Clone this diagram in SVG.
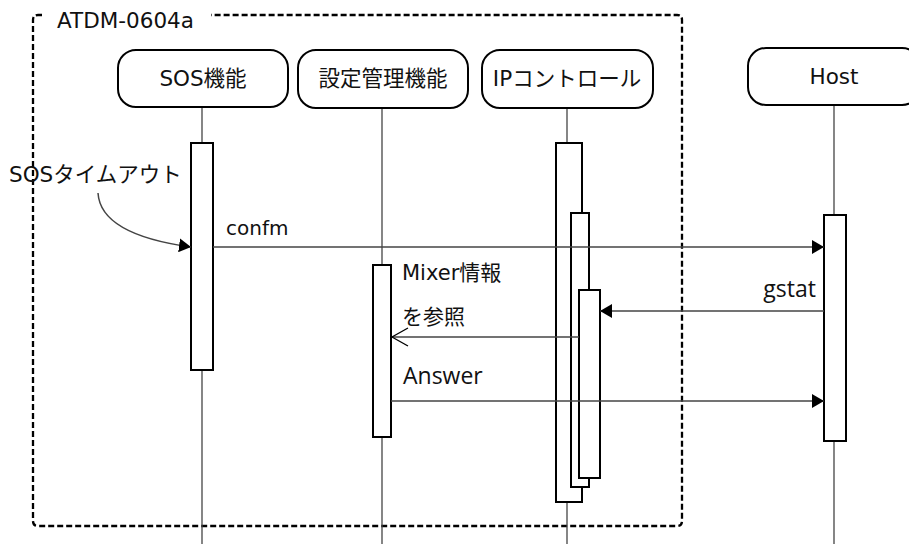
<svg xmlns="http://www.w3.org/2000/svg" width="909" height="544" viewBox="0 0 909 544">
<style>
  .frame{fill:none;stroke:#000;stroke-width:2.3;stroke-dasharray:6,3}
  .node{fill:#fff;stroke:#000;stroke-width:2}
  .act{fill:#fff;stroke:#000;stroke-width:2}
  .life{stroke:#444;stroke-width:1.3;fill:none}
  .msg{stroke:#444;stroke-width:1.5;fill:none}
  .t{font-family:"DejaVu Sans","Noto Sans CJK JP",sans-serif;font-size:21px;fill:#111}
  .ts{font-family:"Open Sans","Noto Sans CJK JP",sans-serif;font-size:23px;fill:#111}
  .c{text-anchor:middle}
</style>
<defs>
  <marker id="fill" markerUnits="userSpaceOnUse" markerWidth="12" markerHeight="14" refX="12" refY="7" orient="auto">
    <path d="M0,0 L12,7 L0,14 z" fill="#000"/>
  </marker>
  <marker id="open" markerUnits="userSpaceOnUse" markerWidth="20" markerHeight="22" refX="17" refY="10" orient="auto">
    <path d="M1,1 L17,10 L1,19" fill="none" stroke="#000" stroke-width="1.3"/>
  </marker>
</defs>

<g id="frame">
  <path class="frame" d="M42,15 H38 Q33,15 33,20 V521 Q33,526 38,526 H677 Q682,526 682,521 V20 Q682,15 677,15 H211"/>
  <text class="t" x="57" y="28" style="font-size:21.5px">ATDM-0604a</text>
</g>

<g id="lifelines">
  <line class="life" x1="202" y1="107" x2="202" y2="143"/>
  <line class="life" x1="202" y1="370" x2="202" y2="544"/>
  <line class="life" x1="382" y1="108" x2="382" y2="265"/>
  <line class="life" x1="382" y1="437" x2="382" y2="544"/>
  <line class="life" x1="567" y1="108" x2="567" y2="143"/>
  <line class="life" x1="567" y1="502" x2="567" y2="544"/>
  <line class="life" x1="834" y1="105" x2="834" y2="215"/>
  <line class="life" x1="834" y1="441" x2="834" y2="544"/>
</g>

<g id="n-sos">
  <rect class="node" x="118" y="50" width="170" height="57" rx="18"/>
  <text class="t c" x="203" y="86" style="font-size:21.5px">SOS機能</text>
  <rect class="act" x="191" y="143" width="22" height="227"/>
</g>
<g id="n-settings">
  <rect class="node" x="298" y="50" width="170" height="58" rx="18"/>
  <text class="t c" x="383" y="86" style="font-size:21.5px">設定管理機能</text>
  <rect class="act" x="373" y="265" width="18" height="172"/>
</g>
<g id="n-ip">
  <rect class="node" x="482" y="50" width="171" height="58" rx="18"/>
  <text class="t c" x="567" y="86" style="font-size:21.5px">IPコントロール</text>
  <rect class="act" x="556" y="143" width="26" height="359"/>
  <rect class="act" x="571" y="213" width="18" height="274"/>
  <rect class="act" x="579" y="290" width="21" height="188"/>
</g>
<g id="n-host">
  <rect class="node" x="748" y="48" width="172" height="57" rx="18"/>
  <text class="t c" x="834" y="84" style="font-size:21.5px">Host</text>
  <rect class="act" x="824" y="215" width="22" height="226"/>
</g>

<g id="connectors">
  <path class="msg" d="M98,193 C100,225 140,240 191,247" marker-end="url(#fill)" stroke="#000"/>
  <line class="msg" x1="213" y1="247" x2="824" y2="247" marker-end="url(#fill)"/>
  <line class="msg" x1="824" y1="311" x2="600" y2="311" marker-end="url(#fill)"/>
  <line class="msg" x1="579" y1="337" x2="392" y2="337" marker-end="url(#open)"/>
  <line class="msg" x1="391" y1="401" x2="824" y2="401" marker-end="url(#fill)"/>
</g>

<g id="labels">
  <text class="t" x="9" y="182" style="font-size:21.5px">SOSタイムアウト</text>
  <text class="t" x="226" y="235" style="font-size:20px">confm</text>
  <text class="ts" x="816" y="297" text-anchor="end">gstat</text>
  <text class="t" x="402" y="280">Mixer情報</text>
  <text class="t" x="402" y="324">を参照</text>
  <text class="ts" x="403" y="384">Answer</text>
</g>
</svg>
